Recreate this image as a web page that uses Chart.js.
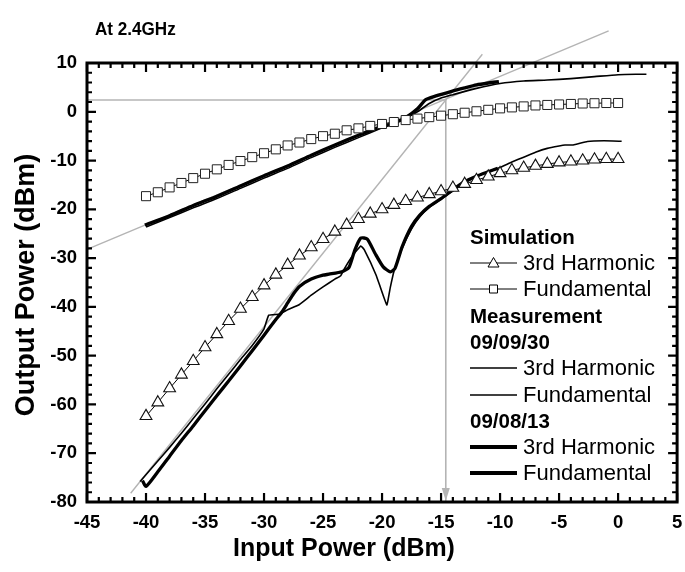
<!DOCTYPE html>
<html><head><meta charset="utf-8">
<script src="https://cdn.jsdelivr.net/npm/chart.js@4.4.0/dist/chart.umd.min.js"></script>
<style>html,body{margin:0;padding:0;background:#fff;}#wrap{position:relative;width:685px;height:572px;}</style>
</head><body><div id="wrap"><canvas id="c" width="685" height="572"></canvas></div>
<script>
const FONT = '"Liberation Sans", Arial, Helvetica, sans-serif';

// Axis ranges / tick labels
const xTickLabels = [-45, -40, -35, -30, -25, -20, -15, -10, -5, 0, 5];
const yTickLabels = [-80, -70, -60, -50, -40, -30, -20, -10, 0, 10];

// Simulation (input power, dBm)
const simX = [-40,-39,-38,-37,-36,-35,-34,-33,-32,-31,-30,-29,-28,-27,-26,-25,-24,-23,-22,-21,-20,-19,-18,-17,-16,-15,-14,-13,-12,-11,-10,-9,-8,-7,-6,-5,-4,-3,-2,-1,0];
const simThird = [-62.4,-59.6,-56.7,-53.9,-51.1,-48.3,-45.6,-42.9,-40.4,-38.0,-35.6,-33.4,-31.4,-29.5,-27.8,-26.1,-24.6,-23.2,-22.0,-20.9,-20.0,-19.1,-18.3,-17.6,-16.9,-16.3,-15.6,-14.8,-14.0,-13.3,-12.6,-12.0,-11.5,-11.1,-10.7,-10.4,-10.2,-10.0,-9.8,-9.7,-9.7];
const simFund = [-17.3,-16.5,-15.5,-14.6,-13.6,-12.7,-11.8,-10.9,-10.1,-9.3,-8.5,-7.7,-6.9,-6.3,-5.6,-5.0,-4.5,-3.8,-3.4,-2.9,-2.5,-2.1,-1.7,-1.4,-1.1,-0.8,-0.5,-0.2,0.1,0.4,0.7,0.9,1.1,1.3,1.4,1.5,1.6,1.7,1.75,1.8,1.8];

// Measurement 09/08/13 (thick)
const m13ThirdX = [-40.3,-40.0,-39,-38,-37,-36,-35,-34,-33,-32,-31,-30,-29,-28.5,-28,-27.5,-27,-26,-25,-24.5,-23.4,-22.8,-22.3,-21.8,-21.25,-20.6,-19.9,-19.3,-18.9,-18.3,-17.5,-16.8,-16,-15,-14,-13,-12,-11,-10.2];
const m13Third = [-75.6,-76.8,-73.8,-70.6,-67.4,-64.4,-61.3,-58.2,-55.2,-52.1,-49.0,-45.8,-42.6,-41.1,-39.2,-37.3,-35.8,-34.3,-33.5,-33.3,-32.8,-31.9,-28.3,-25.9,-26.1,-29.0,-31.8,-32.8,-32.1,-27.7,-23.5,-21.2,-19.4,-17.8,-16.0,-14.3,-13.2,-12.3,-11.6];
const m13FundX = [-40.1,-38,-36,-34,-32,-30,-28,-26,-24,-22,-20.5,-19.2,-18,-17,-16.3,-15.5,-14.1,-13,-12,-11,-10.1];
const m13Fund = [-23.2,-21.3,-19.2,-17.3,-15.2,-13.1,-11.1,-8.9,-6.8,-4.8,-3.4,-2.5,-1.2,0.6,2.5,3.2,4.2,4.9,5.5,5.9,6.2];

// Measurement 09/09/30 (thin)
const m30ThirdX = [-40.5,-39,-38,-37,-36,-35,-34,-33,-32,-31,-30,-29.6,-28.7,-28,-27,-26,-25,-24,-23.5,-23.2,-22.5,-21.8,-21.5,-20.5,-19.6,-19.3,-19.0,-18.3,-17.5,-16.8,-16,-15,-14,-13,-12,-11,-10,-9,-8,-7,-6,-5,-4.5,-3.8,-2.6,-1.2,0.3];
const m30Third = [-75.8,-71.6,-68.8,-65.9,-62.9,-59.9,-56.8,-53.8,-50.8,-47.9,-44.5,-41.7,-41.5,-40.6,-39.5,-37.6,-35.9,-34.3,-33.6,-32.2,-29.5,-27.5,-28.3,-33.5,-39.6,-36.0,-32.8,-28.0,-24.0,-21.5,-19.6,-17.9,-16.2,-14.6,-13.3,-12.3,-11.4,-10.3,-9.3,-8.3,-7.5,-7.0,-6.8,-6.8,-6.1,-5.95,-6.05];
const m30FundX = [-40,-38,-36,-34,-32,-30,-28,-26,-24,-22,-20,-18.5,-17,-16,-15,-14,-12,-10,-8,-6,-4,-2,0,1.5,2.4];
const m30Fund = [-23.6,-21.7,-19.7,-17.8,-15.7,-13.6,-11.6,-9.4,-7.3,-5.3,-3.3,-1.9,0.0,1.7,2.8,3.5,4.8,5.8,6.3,6.5,6.8,7.2,7.6,7.7,7.7];

// Grey construction lines (IP3 extrapolation)
const fundExtX = [-45, -0.8];
const fundExtY = [-28.2, 16.6];
const thirdExtX = [-41.3, -11.5];
const thirdExtY = [-78.2, 11.8];
const ip3HX = [-45, -14.6];
const ip3HY = [2.4, 2.4];
const ip3VX = [-14.6, -14.6];
const ip3VY = [2.4, -80];

const pts = (xs, ys) => xs.map((x, i) => ({x: x, y: ys[i]}));
const GREY = '#b4b4b4';

const lineDs = (label, xs, ys, w, color, extra) => Object.assign({
  label, data: pts(xs, ys), showLine: true, borderColor: color, borderWidth: w,
  pointRadius: 0, fill: false, tension: 0.2
}, extra || {});

const datasets = [
  {label: 'Sim 3rd', data: pts(simX, simThird), showLine: true, borderColor: '#000', borderWidth: 1,
   pointStyle: 'triangle', pointRadius: 6.8, pointBackgroundColor: '#fff', pointBorderColor: '#111', pointBorderWidth: 1.1, tension: 0},
  {label: 'Sim Fund', data: pts(simX, simFund), showLine: true, borderColor: '#000', borderWidth: 1,
   pointStyle: 'rect', pointRadius: 6.4, pointBackgroundColor: '#fff', pointBorderColor: '#222', pointBorderWidth: 1, tension: 0},
  lineDs('09/08/13 3rd', m13ThirdX, m13Third, 3.3, '#000'),
  lineDs('09/08/13 Fund', m13FundX, m13Fund, 3.3, '#000'),
  lineDs('09/09/30 3rd', m30ThirdX, m30Third, 1.6, '#000', {tension: 0.1}),
  lineDs('09/09/30 Fund', m30FundX, m30Fund, 1.6, '#000'),
  lineDs('fund ext', fundExtX, fundExtY, 1.4, GREY, {clip: false, tension: 0}),
  lineDs('3rd ext', thirdExtX, thirdExtY, 1.4, GREY, {clip: false, tension: 0}),
  lineDs('ip3 h', ip3HX, ip3HY, 1.6, GREY, {tension: 0}),
  lineDs('ip3 v', ip3VX, ip3VY, 1.6, GREY, {tension: 0})
];

function squishText(ctx, text, x, y, sx) {
  ctx.save();
  ctx.translate(x, y);
  ctx.scale(sx, 1);
  ctx.fillText(text, 0, 0);
  ctx.restore();
}

const framePlugin = {
  id: 'frame',
  afterDraw(chart) {
    const {ctx, chartArea: a, scales: {x, y}} = chart;
    ctx.save();
    // arrow head at bottom of vertical IP3 line
    const ax = x.getPixelForValue(ip3VX[1]);
    const ay = y.getPixelForValue(ip3VY[1]);
    ctx.fillStyle = GREY;
    ctx.beginPath();
    ctx.moveTo(ax, ay - 1);
    ctx.lineTo(ax - 4, ay - 14);
    ctx.lineTo(ax + 4, ay - 14);
    ctx.closePath();
    ctx.fill();
    // ticks
    ctx.strokeStyle = '#000';
    ctx.lineWidth = 2.2;
    ctx.beginPath();
    for (let v = -45; v <= 5; v += 1) {
      const px = x.getPixelForValue(v);
      const len = (v % 5 === 0) ? 9 : 5;
      ctx.moveTo(px, a.bottom); ctx.lineTo(px, a.bottom - len);
      ctx.moveTo(px, a.top); ctx.lineTo(px, a.top + len);
    }
    for (let v = -80; v <= 10; v += 2) {
      const py = y.getPixelForValue(v);
      const len = (v % 10 === 0) ? 9 : 5;
      ctx.moveTo(a.left, py); ctx.lineTo(a.left + len, py);
      ctx.moveTo(a.right, py); ctx.lineTo(a.right - len, py);
    }
    ctx.stroke();
    ctx.lineWidth = 3;
    ctx.strokeRect(a.left, a.top, a.right - a.left, a.bottom - a.top);

    // titles
    ctx.fillStyle = '#000';
    ctx.textBaseline = 'middle';
    ctx.textAlign = 'left';
    ctx.font = 'bold 18px ' + FONT;
    squishText(ctx, 'At 2.4GHz', 95, 30, 0.95);
    ctx.textAlign = 'center';
    ctx.font = 'bold 26px ' + FONT;
    squishText(ctx, 'Input Power (dBm)', 344, 549, 0.96);
    ctx.save();
    ctx.font = 'bold 27px ' + FONT;
    ctx.translate(27, 285);
    ctx.rotate(-Math.PI / 2);
    ctx.fillText('Output Power (dBm)', 0, 0);
    ctx.restore();

    // legend
    const lx0 = 470, lx1 = 517, tx = 523;
    const rows = [
      {t: 'Simulation', bold: true, y: 238},
      {t: '3rd Harmonic', y: 263, m: 'tri'},
      {t: 'Fundamental', y: 289, m: 'sq'},
      {t: 'Measurement', bold: true, y: 317},
      {t: '09/09/30', bold: true, y: 343},
      {t: '3rd Harmonic', y: 368, w: 1.6},
      {t: 'Fundamental', y: 395, w: 1.6},
      {t: '09/08/13', bold: true, y: 422},
      {t: '3rd Harmonic', y: 447, w: 4},
      {t: 'Fundamental', y: 473, w: 4}
    ];
    ctx.textAlign = 'left';
    rows.forEach(r => {
      if (r.bold) {
        ctx.font = 'bold 20.5px ' + FONT;
        ctx.fillText(r.t, lx0, r.y);
        return;
      }
      ctx.font = '22px ' + FONT;
      ctx.fillText(r.t, tx, r.y + 1);
      ctx.strokeStyle = '#000';
      ctx.lineWidth = r.w || 1;
      ctx.beginPath(); ctx.moveTo(lx0, r.y); ctx.lineTo(lx1, r.y); ctx.stroke();
      if (r.m) {
        const cx = (lx0 + lx1) / 2;
        ctx.fillStyle = '#fff';
        ctx.lineWidth = 1;
        ctx.beginPath();
        if (r.m === 'tri') {
          ctx.moveTo(cx, r.y - 5.5); ctx.lineTo(cx + 5.5, r.y + 4); ctx.lineTo(cx - 5.5, r.y + 4); ctx.closePath();
        } else {
          ctx.rect(cx - 4, r.y - 4, 8, 8);
        }
        ctx.fill(); ctx.stroke();
        ctx.fillStyle = '#000';
      }
    });
    ctx.restore();
  }
};

new Chart(document.getElementById('c'), {
  type: 'scatter',
  data: {datasets},
  options: {
    responsive: false, animation: false, devicePixelRatio: 1,
    layout: {padding: {top: 63, right: 6, left: 0, bottom: 0}},
    plugins: {legend: {display: false}, tooltip: {enabled: false}, title: {display: false}},
    scales: {
      x: {
        type: 'linear', position: 'bottom', min: -45, max: 5,
        grid: {display: false, drawTicks: false}, border: {display: false},
        afterFit: s => { s.height = 70; s.paddingLeft = 0; s.paddingRight = 0; },
        afterBuildTicks: s => { s.ticks = xTickLabels.map(v => ({value: v})); },
        ticks: {color: '#000', padding: 10, font: {family: FONT, size: 18.5, weight: 'bold'}, maxRotation: 0, autoSkip: false}
      },
      y: {
        type: 'linear', position: 'left', min: -80, max: 10,
        grid: {display: false, drawTicks: false}, border: {display: false},
        afterFit: s => { s.width = 87; },
        afterBuildTicks: s => { s.ticks = yTickLabels.map(v => ({value: v})); },
        ticks: {color: '#000', padding: 10, font: {family: FONT, size: 18.5, weight: 'bold'}, autoSkip: false}
      }
    }
  },
  plugins: [framePlugin]
});
</script></body></html>
